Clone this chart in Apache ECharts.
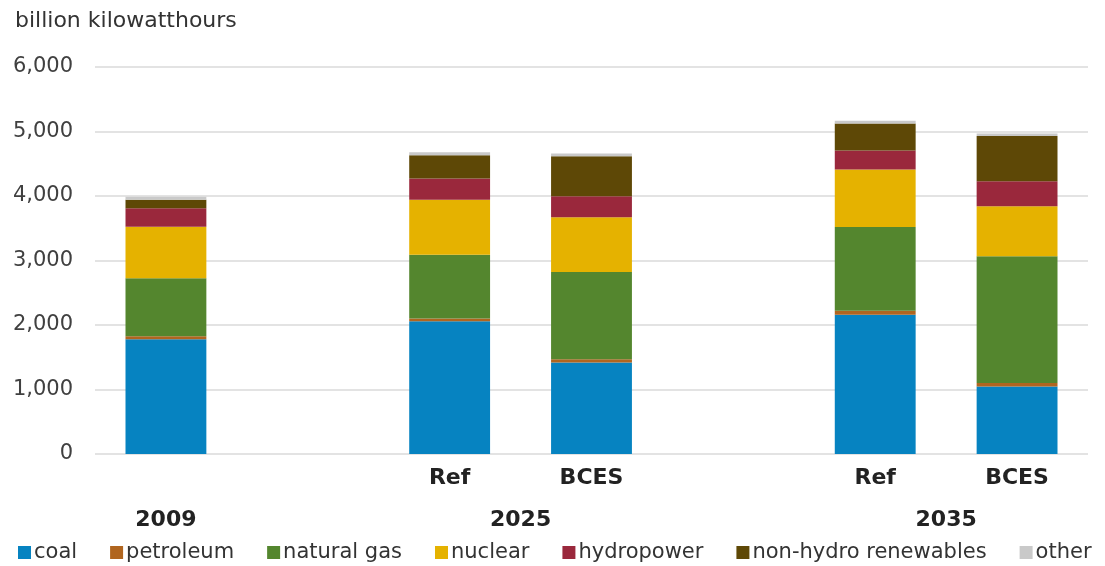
<!DOCTYPE html>
<html>
<head>
<meta charset="utf-8">
<script src="https://cdn.jsdelivr.net/npm/echarts@6/dist/echarts.min.js"></script>
<style>
  html, body { margin: 0; padding: 0; background: #ffffff; }
  #chart { width: 1105px; height: 566px; }
</style>
</head>
<body>
<div id="chart"></div>
<script>
// Electricity generation by fuel, billion kilowatthours
// Slots: 2009 | gap | 2025 Ref | 2025 BCES | gap | 2035 Ref | 2035 BCES
const scenarioLabels = ['', '', 'Ref', 'BCES', '', 'Ref', 'BCES'];
// Year labels sit on a half-slot scale (15 points) so they can centre under a pair of bars
const yearLabels = ['', '2009', '', '', '', '', '2025', '', '', '', '', '', '2035', '', ''];
const yTicks = [0, 1000, 2000, 3000, 4000, 5000, 6000];

const coal       = [1780, null, 2060, 1420, null, 2160, 1045];
const petroleum  = [  45, null,   40,   50, null,   60,   55];
const naturalGas = [ 900, null,  990, 1350, null, 1300, 1965];
const nuclear    = [ 800, null,  850,  850, null,  890,  775];
const hydropower = [ 285, null,  330,  325, null,  295,  390];
const nonHydro   = [ 130, null,  360,  620, null,  420,  700];
const other      = [  50, null,   50,   45, null,   40,   40];

const seriesDefs = [
  { name: 'coal', data: coal, color: '#0683c1' },
  { name: 'petroleum', data: petroleum, color: '#b0651f' },
  { name: 'natural gas', data: naturalGas, color: '#54862e' },
  { name: 'nuclear', data: nuclear, color: '#e5b200' },
  { name: 'hydropower', data: hydropower, color: '#9a283c' },
  { name: 'non-hydro renewables', data: nonHydro, color: '#5e4806' },
  { name: 'other', data: other, color: '#c9c9c9' }
];

const FONT = 'DejaVu Sans';
const chart = echarts.init(document.getElementById('chart'), null, { renderer: 'canvas' });

chart.setOption({
  animation: false,
  backgroundColor: '#ffffff',
  title: {
    text: 'billion kilowatthours',
    left: 10,
    top: 5,
    textStyle: { fontFamily: FONT, fontSize: 22, fontWeight: 'normal', color: '#333333' }
  },
  legend: {
    bottom: 3,
    left: 18,
    width: 1087,
    padding: 0,
    icon: 'rect',
    itemWidth: 13,
    itemHeight: 13,
    itemGap: 33,
    textStyle: { fontFamily: FONT, fontSize: 21, color: '#333333', padding: [0, 0, 0, -2] },
    data: seriesDefs.map(s => s.name)
  },
  grid: { left: 95, right: 17, top: 67, bottom: 112, containLabel: false },
  xAxis: [
    {
      type: 'category',
      data: scenarioLabels,
      axisLine: { show: false },
      axisTick: { show: false },
      axisLabel: {
        interval: 0, margin: 13,
        fontFamily: FONT, fontSize: 22, fontWeight: 'bold', color: '#222222'
      }
    },
    {
      type: 'category',
      data: yearLabels,
      boundaryGap: false,
      position: 'bottom',
      axisLine: { show: false },
      axisTick: { show: false },
      splitLine: { show: false },
      axisLabel: {
        interval: 0, margin: 55,
        fontFamily: FONT, fontSize: 22, fontWeight: 'bold', color: '#222222'
      }
    }
  ],
  yAxis: {
    type: 'value',
    min: yTicks[0],
    max: yTicks[yTicks.length - 1],
    interval: yTicks[1] - yTicks[0],
    axisLine: { show: false },
    axisTick: { show: false },
    splitLine: { lineStyle: { color: '#e3e3e3', width: 2 } },
    axisLabel: {
      margin: 22,
      fontFamily: FONT, fontSize: 21, color: '#404040',
      formatter: v => v.toLocaleString('en-US')
    }
  },
  series: seriesDefs.map(s => ({
    name: s.name,
    type: 'bar',
    stack: 'total',
    xAxisIndex: 0,
    barWidth: '57%',
    data: s.data,
    itemStyle: { color: s.color }
  }))
});
</script>
</body>
</html>
